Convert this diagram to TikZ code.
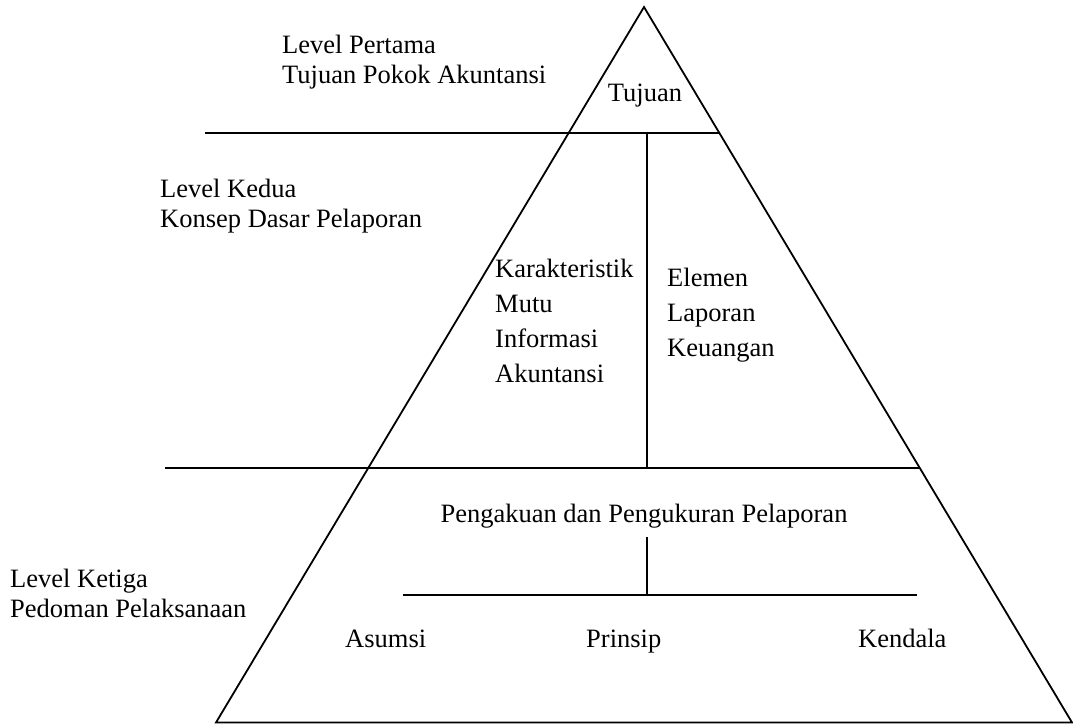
\documentclass[tikz,border=0pt]{standalone}
\usepackage{fontspec}
\setmainfont{Liberation Serif}
\begin{document}
\begin{tikzpicture}[x=1pt, y=-1pt,
    garis/.style={line width=1.8pt, black},
    teks/.style={inner sep=0pt, anchor=base west, align=left,
      font=\fontsize{26.5}{30}\selectfont},
    daftar/.style={teks, font=\fontsize{26.5}{35}\selectfont}]
    \useasboundingbox (0,0) rectangle (1073,724);

    % Segitiga
    \coordinate (puncak) at (644,7);
    \coordinate (kiri) at (216,722.5);
    \coordinate (kanan) at (1072,722.5);
    \draw[garis, line join=miter] (kiri) -- (puncak) -- (kanan) -- cycle;

    % Garis pembatas level
    \coordinate (batas1) at (205,133);
    \coordinate (batas1b) at (719,133);
    \coordinate (batas2) at (165,468);
    \coordinate (batas2b) at (920,468);
    \draw[garis] (batas1) -- (batas1b);
    \draw[garis] (batas2) -- (batas2b);
    \draw[garis] (647,133) -- (647,468);

    % Level pertama
    \node[teks] (lvl1) at (282,83) {Level Pertama\\Tujuan Pokok Akuntansi};
    \node[teks, anchor=base] (tujuan) at (645,101) {Tujuan};

    % Level kedua
    \node[teks] (lvl2) at (160,227) {Level Kedua\\Konsep Dasar Pelaporan};
    \node[daftar] (mutu) at (495,382) {Karakteristik\\Mutu\\Informasi\\Akuntansi};
    \node[daftar] (elemen) at (667,356) {Elemen\\Laporan\\Keuangan};

    % Level ketiga
    \node[teks] (lvl3) at (10,617) {Level Ketiga\\Pedoman Pelaksanaan};
    \node[teks, anchor=base] (akui) at (644,522) {Pengakuan dan Pengukuran Pelaporan};
    \coordinate (cabang) at (647,595);
    \draw[garis] (647,537) -- (cabang);
    \draw[garis] (403,595) -- (917,595);
    \node[teks] (asumsi) at (345,647) {Asumsi};
    \node[teks] (prinsip) at (586,647) {Prinsip};
    \node[teks] (kendala) at (858,647) {Kendala};
\end{tikzpicture}
\end{document}
